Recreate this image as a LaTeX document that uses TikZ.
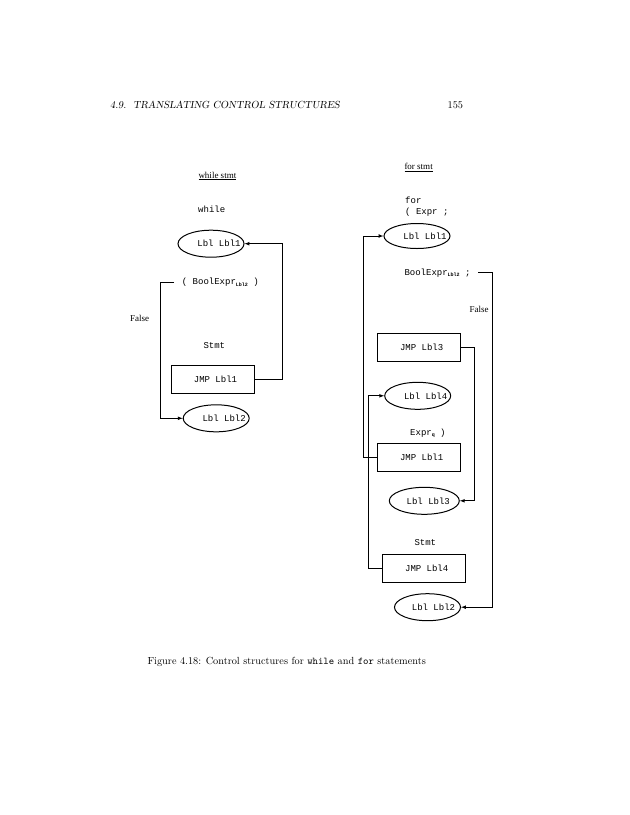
\documentclass[tikz,border=0pt]{standalone}
\usepackage{fontspec}
\newfontfamily\codefont{Liberation Mono}
\newfontfamily\timesfont{Liberation Serif}
\usetikzlibrary{shapes}
\newcommand{\sub}[1]{\raisebox{-1.6pt}{\fontsize{5}{5}\selectfont\bfseries #1}}
\newcommand{\inset}[2]{\makebox[0pt]{\hspace*{#1}#2}}

\begin{document}
\begin{tikzpicture}[x=1pt,y=-1pt]
        \tikzstyle{every node}=[inner sep=0pt]
        \tikzstyle{page}=[font=\fontsize{10.3}{12}\selectfont]
        \tikzstyle{code}=[anchor=west,font=\codefont\fontsize{9}{10}\selectfont]
        \tikzstyle{note}=[anchor=west,font=\timesfont\fontsize{9}{10}\selectfont]
        \tikzstyle{lbl}=[ellipse,draw,line width=1pt,minimum width=66pt,minimum height=27pt,font=\codefont\fontsize{9}{10}\selectfont]
        \tikzstyle{jmp}=[rectangle,draw,line width=0.7pt,minimum width=83pt,minimum height=27.5pt,font=\codefont\fontsize{9}{10}\selectfont]
        \tikzstyle{link}=[line width=0.7pt,-latex]
        \useasboundingbox (0,0) rectangle (630,815);
        % page head
        \node[page,anchor=base west] (head) at (110,108.8) {\slshape 4.9.\ \ TRANSLATING CONTROL STRUCTURES};
        \node[page,anchor=base east] (number) at (463.3,108.8) {155};
        % while
        \node[note] (wtitle) at (198.3,176) {\underline{while stmt}};
        \node[code] (wkey) at (198,209) {while};
        \node[lbl] (wlbl1) at (211,243.7) {\inset{16pt}{Lbl Lbl1}};
        \node[code] (wbool) at (181.7,282.3) {( BoolExpr\sub{Lbl2} )};
        \node[note] (wfalse) at (130,318.3) {False};
        \node[code] (wstmt) at (203.3,346) {Stmt};
        \node[jmp] (wjmp1) at (212.5,379.5) {\inset{6pt}{JMP Lbl1}};
        \node[lbl] (wlbl2) at (216.2,418.3) {\inset{16pt}{Lbl Lbl2}};
        \draw[link] (wjmp1.east) -- ++(28,0) |- (wlbl1.east);
        \draw[link] ([xshift=-7.7pt]wbool.west) -- ++(-13.3,0) |- (wlbl2.west);
        % for
        \node[note] (ftitle) at (404.3,167.3) {\underline{for stmt}};
        \node[code] (fkey) at (405,200.7) {for};
        \node[code] (fexpr) at (405,212) {( Expr ;};
        \node[lbl,minimum height=25pt] (flbl1) at (417,236) {\inset{16pt}{Lbl Lbl1}};
        \node[code] (fbool) at (404.3,272.7) {BoolExpr\sub{Lbl2} ;};
        \node[note] (ffalse) at (469.3,309.3) {False};
        \node[jmp] (fjmp3) at (418.7,347.5) {\inset{6pt}{JMP Lbl3}};
        \node[lbl] (flbl4) at (417.7,395.8) {\inset{16pt}{Lbl Lbl4}};
        \node[code] (fstep) at (410,433.3) {Expr\sub{q} )};
        \node[jmp] (fjmp1) at (418.7,457.2) {\inset{6pt}{JMP Lbl1}};
        \node[lbl,minimum width=70pt] (flbl3) at (424.3,500.8) {\inset{8pt}{Lbl Lbl3}};
        \node[code] (fstmt) at (414.3,542.7) {Stmt};
        \node[jmp] (fjmp4) at (423.7,568.2) {\inset{6pt}{JMP Lbl4}};
        \node[lbl] (flbl2) at (427.5,607.2) {\inset{12pt}{Lbl Lbl2}};
        \draw[link] ([xshift=7.6pt]fbool.east) -- ++(14,0) |- (flbl2.east);
        \draw[link] (fjmp3.east) -- ++(14,0) |- (flbl3.east);
        \draw[link] (fjmp1.west) -- ++(-13.3,0) |- (flbl1.west);
        \draw[link] (fjmp4.west) -- ++(-14,0) |- (flbl4.west);
        % caption
        \node[page,anchor=west] (caption) at (147.3,662.3) {Figure 4.18: Control structures for \texttt{while} and \texttt{for} statements};
\end{tikzpicture}
\end{document}
